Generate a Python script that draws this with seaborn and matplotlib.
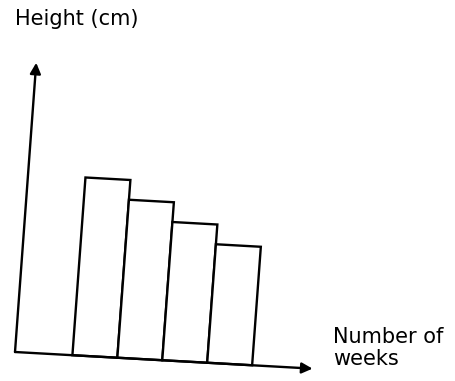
import numpy as np
import matplotlib
matplotlib.use("Agg")
import matplotlib.pyplot as plt
from matplotlib.patches import FancyArrowPatch
from matplotlib.transforms import Affine2D
import seaborn as sns

# sketch data: four weeks, height drops each week (arbitrary units)
weeks = ["1", "2", "3", "4"]
heights = [9, 8, 7, 6]

sns.set_style("white")

fig = plt.figure(figsize=(4.56, 3.81), dpi=100)
ax = fig.add_axes([0, 0, 1, 1])

sns.barplot(x=weeks, y=heights, color="white", edgecolor="black",
            linewidth=1.7, width=1.0, saturation=1, ax=ax)

# scale: 45 px per category, 19.8 px per height unit
x0 = -80 / 45          # where the axes cross
left = x0 - 15 / 45
bottom = -29 / 19.8
ax.set_xlim(left, left + 456 / 45)
ax.set_ylim(bottom, bottom + 381 / 19.8)
ax.axis("off")

# the drawing is slightly tilted (scanned sketch)
px, py = ax.transData.transform((x0, 0))
ax_ang, ay_ang = np.radians(3.2), np.radians(4.2)
M = np.array([[np.cos(ax_ang), np.sin(ay_ang), 0],
              [-np.sin(ax_ang), np.cos(ay_ang), 0],
              [0, 0, 1]])
tilt = Affine2D().translate(-px, -py) + Affine2D(M) + Affine2D().translate(px, py)

for p in ax.patches:
    p.set_transform(ax.transData + tilt)
    p.set_clip_on(False)

# axis arrows
x_end = x0 + 298 / 45
y_end = 290 / 19.8
for a, b in [((x0, 0), (x_end, 0)), ((x0, 0), (x0, y_end))]:
    arr = FancyArrowPatch(a, b, arrowstyle="-|>", mutation_scale=16,
                          color="black", linewidth=1.7,
                          shrinkA=0, shrinkB=0,
                          transform=ax.transData + tilt, clip_on=False)
    ax.add_patch(arr)

fig.text(15 / 456, 1 - 9 / 381, "Height (cm)", fontsize=15, color="black",
         ha="left", va="top")
fig.text(333 / 456, 1 - 327 / 381, "Number of\nweeks", fontsize=15,
         color="black", ha="left", va="top", linespacing=1.15)

fig.savefig("out.png", dpi=100)
